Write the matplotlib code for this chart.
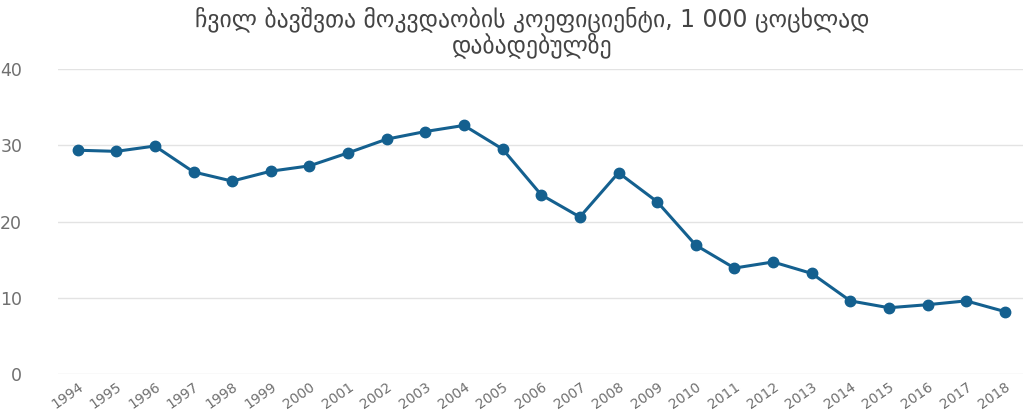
import matplotlib
matplotlib.use('Agg')
import matplotlib.pyplot as plt

years = [str(y) for y in range(1994, 2019)]
rate = [29.35, 29.2, 29.9, 26.5, 25.3, 26.6, 27.3, 29.0, 30.8, 31.8, 32.6, 29.5,
        23.5, 20.6, 26.4, 22.6, 16.9, 13.9, 14.7, 13.2, 9.6, 8.7, 9.1, 9.6, 8.2]
yticks = [0, 10, 20, 30, 40]
title = "ჩვილ ბავშვთა მოკვდაობის კოეფიციენტი, 1 000 ცოცხლად\nდაბადებულზე"

line_color = '#14608f'

fig = plt.figure(figsize=(10.23, 4.18), dpi=100)
ax = fig.add_axes([0.057, 0.105, 0.943, 0.730])

x = list(range(len(years)))
ax.plot(x, rate, color=line_color, lw=2.2, marker='o', ms=7.5,
        markerfacecolor=line_color, markeredgecolor=line_color, zorder=3)

ax.set_ylim(0, 40)
ax.set_xlim(-0.5, len(years) - 0.53)
ax.set_yticks(yticks)
ax.set_xticks(x)
ax.set_xticklabels(years, rotation=35, ha='right', rotation_mode='anchor',
                   fontsize=10, color='#707070')
ax.set_yticklabels([str(v) for v in yticks], fontsize=12.5, color='#707070')
ax.grid(axis='y', color='#e3e3e3', lw=1)
ax.set_axisbelow(True)
for s in ax.spines.values():
    s.set_visible(False)
ax.tick_params(length=0)
ax.tick_params(axis='y', pad=26)
ax.tick_params(axis='x', pad=4)

fig.text(0.52, 0.985, title, ha='center', va='top', fontsize=17,
         color='#444444', linespacing=1.0)

fig.savefig('out.png', dpi=100)
